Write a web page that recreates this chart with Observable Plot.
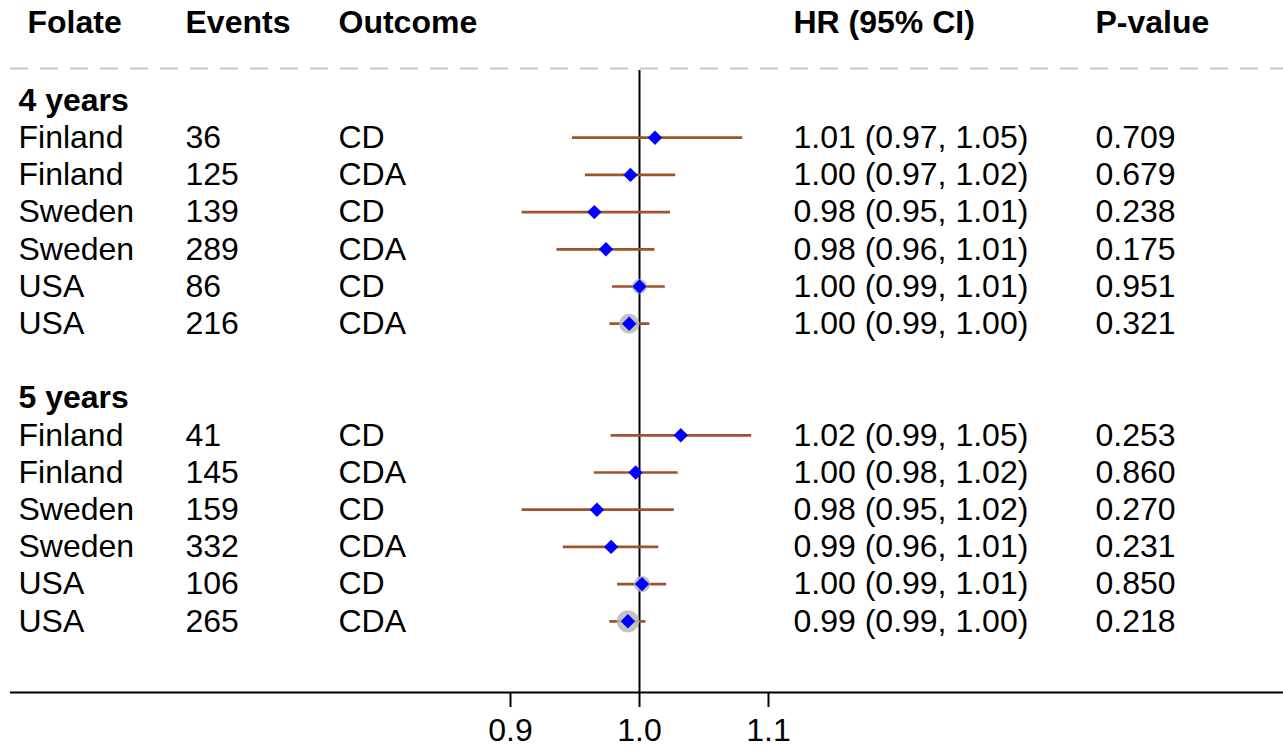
<!DOCTYPE html>
<html>
<head>
<meta charset="utf-8">
<script src="https://cdn.jsdelivr.net/npm/d3@7"></script>
<script src="https://cdn.jsdelivr.net/npm/@observablehq/plot@0.6"></script>
<style>
  html, body { margin: 0; padding: 0; background: #fff; }
  #chart svg { display: block; }
</style>
</head>
<body>
<div id="chart"></div>
<script>
// ---- data ----
const groups = ["4 years", "5 years"];
const folate = ["Finland", "Finland", "Sweden", "Sweden", "USA", "USA",
                "Finland", "Finland", "Sweden", "Sweden", "USA", "USA"];
const events = [36, 125, 139, 289, 86, 216, 41, 145, 159, 332, 106, 265];
const outcome = ["CD", "CDA", "CD", "CDA", "CD", "CDA",
                 "CD", "CDA", "CD", "CDA", "CD", "CDA"];
const hrLabel = ["1.01 (0.97, 1.05)", "1.00 (0.97, 1.02)", "0.98 (0.95, 1.01)",
                 "0.98 (0.96, 1.01)", "1.00 (0.99, 1.01)", "1.00 (0.99, 1.00)",
                 "1.02 (0.99, 1.05)", "1.00 (0.98, 1.02)", "0.98 (0.95, 1.02)",
                 "0.99 (0.96, 1.01)", "1.00 (0.99, 1.01)", "0.99 (0.99, 1.00)"];
const pValue = ["0.709", "0.679", "0.238", "0.175", "0.951", "0.321",
                "0.253", "0.860", "0.270", "0.231", "0.850", "0.218"];
// plotted estimates and intervals (as drawn)
const est   = [1.012, 0.993, 0.965, 0.974, 1.000, 0.992, 1.032, 0.997, 0.967, 0.978, 1.002, 0.991];
const lower = [0.948, 0.958, 0.909, 0.936, 0.979, 0.977, 0.978, 0.965, 0.909, 0.941, 0.983, 0.977];
const upper = [1.080, 1.028, 1.024, 1.012, 1.020, 1.008, 1.087, 1.030, 1.027, 1.015, 1.021, 1.005];
const headers = ["Folate", "Events", "Outcome", "HR (95% CI)", "P-value"];
const xTicks = [0.9, 1.0, 1.1];

// ---- table ----
const perGroup = 6;
const rows = folate.map((f, i) => {
  const g = Math.floor(i / perGroup);
  return {
    row: g * (perGroup + 2) + 1 + (i % perGroup),
    folate: f, events: String(events[i]), outcome: outcome[i],
    hr: hrLabel[i], p: pValue[i],
    est: est[i], lo: lower[i], hi: upper[i],
    w: 1 / (upper[i] - lower[i])
  };
});
const groupRows = groups.map((g, j) => ({row: j * (perGroup + 2), label: g}));

// ---- layout ----
const W = 1283, H = 749;
const mL = 10, mB = 57;
const px = 1290;             // pixels per HR unit
const x0 = 639;              // pixel of HR = 1
const rowH = 37.2, row0 = 100;
const xDomain = [1 + (mL - x0) / px, 1 + (W - x0) / px];
const yDomain = [-row0 / rowH, (H - mB - row0) / rowH];
const headerRow = (22 - row0) / rowH;
const dashRow = (68 - row0) / rowH;
const refTop = (70 - row0) / rowH;
const colDx = [8, 175, 328, 783, 1085];
const headerDx = [17, 175, 328, 783, 1085];
const font = "Liberation Sans, Arial, Helvetica, sans-serif";
const fs = 32, fsB = 32;

const headerData = headers.map((h, i) => ({h, i}));

const textCol = (key, dx) => Plot.text(rows, {
  y: "row", text: key, frameAnchor: "left", textAnchor: "start",
  dx, fontSize: fs, fill: "black"
});

const chart = Plot.plot({
  width: W, height: H,
  marginLeft: mL, marginRight: 0, marginTop: 0, marginBottom: mB,
  style: {fontFamily: font, fontSize: "32px", color: "black", background: "white"},
  x: {domain: xDomain},
  y: {domain: yDomain, reverse: true, axis: null},
  r: {type: "linear", domain: [0, 1], range: [0, 0.31]},
  marks: [
    // header
    ...headerData.map((d, i) => Plot.text([d], {
      y: () => headerRow, text: "h", frameAnchor: "left", textAnchor: "start",
      dx: headerDx[i], fontSize: fsB, fontWeight: "bold", fill: "black"
    })),
    Plot.ruleY([dashRow], {stroke: "#c8c8c8", strokeWidth: 2, strokeDasharray: "18,12"}),
    // group labels
    Plot.text(groupRows, {
      y: "row", text: "label", frameAnchor: "left", textAnchor: "start",
      dx: 8, fontSize: fsB, fontWeight: "bold", fill: "black"
    }),
    // table columns
    textCol("folate", colDx[0]),
    textCol("events", colDx[1]),
    textCol("outcome", colDx[2]),
    textCol("hr", colDx[3]),
    textCol("p", colDx[4]),
    // reference line
    Plot.ruleX([1], {y1: refTop, y2: yDomain[1], stroke: "black", strokeWidth: 2}),
    // confidence intervals
    Plot.ruleY(rows, {y: "row", x1: "lo", x2: "hi", stroke: "#a0522d", strokeWidth: 2.7}),
    // weight circles
    Plot.dot(rows, {x: "est", y: "row", r: "w", fill: "#b8b8b8", fillOpacity: 0.85, stroke: "none"}),
    // point estimates
    Plot.dot(rows, {x: "est", y: "row", symbol: "diamond2", r: 6.5, fill: "#0000ff", stroke: "none"}),
    // axis line
    Plot.ruleY([yDomain[1]], {stroke: "black", strokeWidth: 2}),
    Plot.axisX({ticks: xTicks, tickFormat: ".1f", tickSize: 15, tickPadding: 11,
                fontSize: 32, strokeWidth: 2, label: null, fill: "black"})
  ]
});
document.getElementById("chart").appendChild(chart);
</script>
</body>
</html>
